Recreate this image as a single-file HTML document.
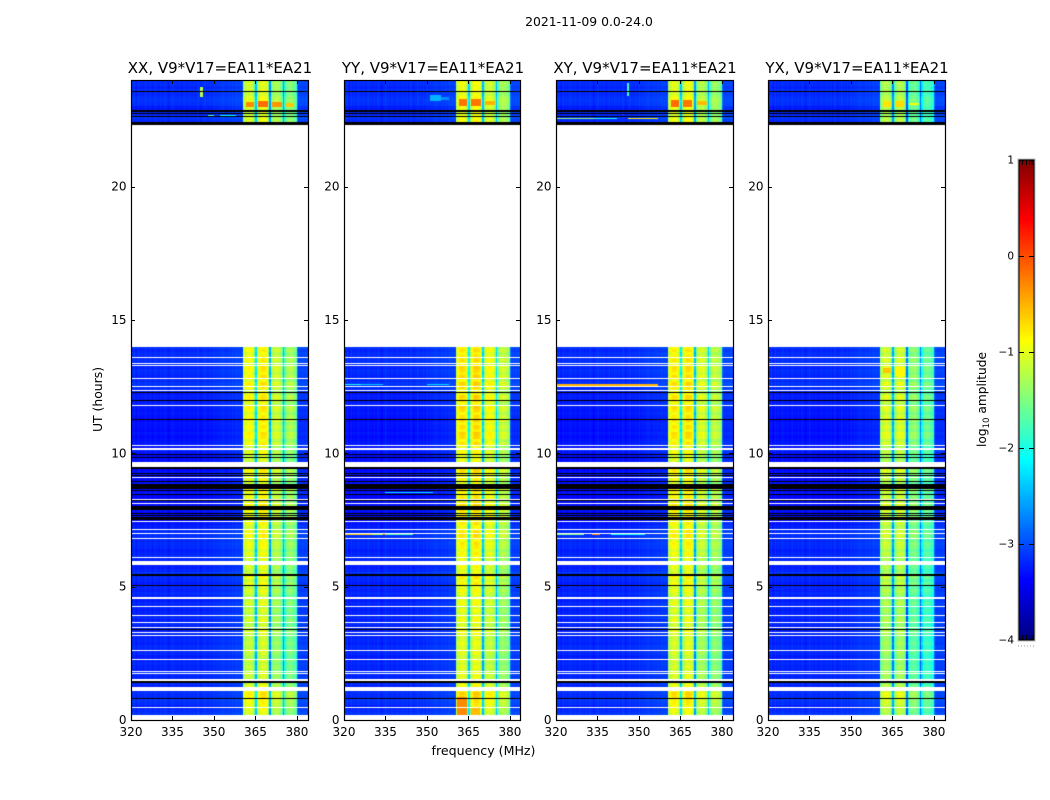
<!DOCTYPE html>
<html lang="en">
<head>
<meta charset="utf-8">
<title>2021-11-09 0.0-24.0</title>
<style>
html,body{margin:0;padding:0;background:#fff;}
#figure{position:relative;width:1050px;height:800px;overflow:hidden;background:#fff;font-family:"DejaVu Sans","Liberation Sans",sans-serif;}
canvas{position:absolute;display:block;}
svg{position:absolute;left:0;top:0;}
text{font-family:"DejaVu Sans","Liberation Sans",sans-serif;fill:#000;}
</style>
</head>
<body>
<div id="figure">
  <canvas id="heat0" width="177" height="640" style="left:131px;top:80px"></canvas>
  <canvas id="heat1" width="176" height="640" style="left:344px;top:80px"></canvas>
  <canvas id="heat2" width="177" height="640" style="left:556px;top:80px"></canvas>
  <canvas id="heat3" width="177" height="640" style="left:768px;top:80px"></canvas>
  <canvas id="cbar" width="15" height="480" style="left:1019px;top:160px"></canvas>
  <svg id="overlay" width="1050" height="800" viewBox="0 0 1050 800">
    <text x="589" y="26" font-size="12.4" text-anchor="middle">2021-11-09 0.0-24.0</text>
    <text x="220" y="73" font-size="15" text-anchor="middle">XX, V9*V17=EA11*EA21</text>
    <text x="433" y="73" font-size="15" text-anchor="middle">YY, V9*V17=EA11*EA21</text>
    <text x="645" y="73" font-size="15" text-anchor="middle">XY, V9*V17=EA11*EA21</text>
    <text x="857" y="73" font-size="15" text-anchor="middle">YX, V9*V17=EA11*EA21</text>
    <text x="483.5" y="755" font-size="12.6" text-anchor="middle">frequency (MHz)</text>
    <text transform="translate(102,399.5) rotate(-90)" font-size="12.4" text-anchor="middle">UT (hours)</text>
    <text transform="translate(986,399.5) rotate(-90)" font-size="12.2" text-anchor="middle">log<tspan font-size="8.6" dy="3">10</tspan><tspan dy="-3"> amplitude</tspan></text>
  </svg>
</div>
<script>
/* ---- chart data ---- */
var panelLefts = [131, 344, 556, 768];
var panelWidths = [177, 176, 177, 177];
var panelKeys = ['xx', 'yy', 'xy', 'yx'];
var xTicks = [320, 335, 350, 365, 380];
var yTicks = [0, 5, 10, 15, 20];
var colorTicks = [1, 0, -1, -2, -3, -4];

/* log10 amplitude per 0.5 MHz channel, starting at 320 MHz */
var channelLevels = [
 -3.15,-3.2,-3.15,-3.25,-3.2,-3.15,-3.22,-3.18,-3.25,-3.2,-3.15,-3.2,-3.24,-3.18,-3.2,-3.26,
 -3.2,-3.15,-3.22,-3.2,-3.25,-3.18,-3.2,-3.24,-3.16,-3.2,-3.22,-3.26,-3.18,-3.2,-3.15,-3.22,
 -3.2,-3.24,-3.18,-3.2,-3.25,-3.2,-3.16,-3.22,-3.2,-3.24,-3.16,-3.2,-3.22,-3.18,-3.24,-3.2,
 -3.15,-3.2,-3.24,-3.18,-3.2,-3.14,-3.22,-3.18,-3.2,-3.14,-3.2,-3.16,-3.12,-3.18,-3.14,-3.16,
 -3.12,-3.15,-3.1,-3.14,-3.12,-3.16,-3.1,-3.12,-3.14,-3.08,-3.12,-3.1,-3.06,-3.1,-3.08,-3.1,-3.06,
 -1.45,-1.27,-1.17,-1.12,-1.12,-1.12,-1.17,-1.32,-1.7,-2.5,-1.6,-1.27,-1.12,-1.07,-1.07,-1.07,-1.12,-1.22,-1.6,
 -2.6,-1.7,-1.37,-1.27,-1.22,-1.22,-1.22,-1.27,-1.42,-1.75,-2.5,-1.8,-1.47,-1.37,-1.32,-1.32,-1.37,-1.42,-1.52,-1.7,
 -2.8,-3.1,-3.05,-3.1,-3.06,-3.1,-3.05,-3.1
];

/* Band-level offsets per 1/8 hour, 0 to 14 h */
var bandGainLow = [
 0,.05,.1,.15,.2,.22,.3,.34,
 .2,.12,0,-.08,-.02,.05,-.08,-.02,
 -.1,.02,-.12,-.02,.06,-.08,.03,-.06,
 -.08,.04,.1,-.03,-.1,.08,0,-.08,
 .03,-.1,.1,0,-.1,.02,.1,-.03,
 .16,.02,.2,.05,-.05,.08,.16,.02,
 .05,.14,.02,.15,.2,.08,.22,.28,
 .18,.06,.2,.08,.26,.12,.26,.3,
 .25,.05,.2,.1,.28,.08,.02,.14,
 .12,.2,.28,.14,.08,.02,-.02,.14,
 .1,.02,.24,.1,.28,.32,.16,.26,
 .14,.3,.24,.12,.26,.32,.08,.24,
 .3,.15,.05,.26,.32,.12,.3,.18,
 .26,.3,.12,.26,.2,.12,.24,.16
];
/* Background offsets per 1/8 hour, 0 to 14 h */
var backgroundGainLow = [
 .04,.07,.03,-.01,.05,.08,.03,.06,
 .03,-.02,.04,-.03,0,.04,-.02,0,
 .03,-.01,-.04,.02,-.01,.04,-.02,.02,
 -.01,.02,-.03,-.01,.03,-.03,.02,-.01,
 -.03,0,.02,-.04,0,.03,-.02,.01,
 -.04,0,.03,.08,0,-.03,.02,-.01,
 .03,0,-.03,.02,.04,.01,.05,.03,
 .04,-.03,-.08,-.13,-.1,-.13,-.08,-.12,
 -.12,-.1,-.15,-.08,-.12,-.15,-.09,-.13,
 -.12,-.08,-.12,-.09,-.06,-.1,-.12,-.08,
 -.03,-.09,-.05,-.08,-.12,-.07,-.12,-.09,
 -.08,-.12,-.09,-.05,-.08,-.05,-.03,-.06,
 -.03,-.06,0,.04,.08,.03,0,.03,
 .05,0,.03,.06,.03,.05,0,.07
];
/* Offsets per 1/8 hour, 22.375 to 24 h */
var bandGainHigh = [.1,.05,0,.05,.05,.1,.15,.1,0,.05,0,.05,.05];
var backgroundGainHigh = [.02,.08,.02,-.03,-.05,.05,.08,.06,.02,.05,-.01,.04,.02];

/* Panel offset for each of the four sub-bands: XX, YY, XY, YX */
var panelBandOffsets = [
 [0, .05, -.1, -.15],
 [.15, .15, .1, 0],
 [.1, .1, -.05, -.05],
 [-.15, -.2, -.4, -.45]
];
var subbandEdges = [360.5, 365, 370, 375, 380];

/* Time spans holding data, hours */
var dataSpans = [[0.18, 13.98], [22.41, 24.0]];

/* Rows flagged white, hours */
var whiteRows = [[.45,.49],[1.08,1.23],[1.46,1.52],[1.74,1.78],[1.80,1.84],[2.25,2.29],[2.59,2.63],[3.16,3.20],[3.27,3.31],[3.44,3.48],[3.64,3.68],[3.90,3.94],[4.24,4.28],[4.53,4.61],[5.80,5.91],[5.92,5.96],[6.08,6.12],[6.79,6.83],[6.98,7.02],[7.13,7.17],[7.41,7.46],[8.11,8.15],[8.26,8.30],[9.06,9.10],[9.50,9.69],[10.14,10.21],[10.27,10.31],[11.79,11.83],[12.35,12.39],[12.49,12.53],[12.80,12.84],[13.27,13.31],[13.36,13.40],[13.59,13.63]];
/* Rows flagged black, hours */
var blackRows = [[.785,.82],[1.38,1.47],[3.38,3.42],[5.03,5.07],[5.40,5.47],[7.50,7.61],[7.66,7.70],[7.73,7.77],[7.87,8.02],[8.21,8.25],[8.42,8.46],[8.58,8.62],[8.66,8.85],[8.93,8.97],[9.14,9.17],[9.23,9.27],[9.40,9.49],[9.82,9.86],[9.92,9.98],[11.25,11.28],[11.97,12.01],[12.28,12.31],[22.33,22.41],[22.60,22.64],[22.71,22.76],[22.80,22.89],[23.54,23.58]];

/* Localised bright features: panel, MHz from, MHz to, hour from, hour to, log10 amplitude */
var brightFeatures = [
 [0,345,346,23.35,23.75,-1.2],[0,361.5,364.5,22.98,23.16,-.3],[0,366,369.5,22.98,23.22,-.15],[0,371,374.5,23.0,23.18,-.35],[0,376,379,23.0,23.12,-.6],
 [0,348,350,22.66,22.7,-1.7],[0,352,358,22.66,22.7,-2.1],
 [1,351,355,23.22,23.42,-2.5],[1,355,358,23.24,23.36,-2.7],[1,361.5,364.5,23.02,23.28,-.2],[1,366,369.5,23.02,23.28,-.2],[1,371,374.5,23.05,23.22,-.5],
 [1,320,326,12.55,12.6,-2.0],[1,326,334,12.55,12.6,-2.4],[1,350,358,12.55,12.6,-2.3],[1,361,364.5,.18,.85,-.3],[1,366,369,.18,.5,-.55],
 [1,320,330,6.92,6.96,-.6],[1,330,334,6.92,6.96,-1.3],[1,334,335,6.92,6.96,.1],[1,335,345,6.92,6.96,-1.7],[1,335,352,8.5,8.55,-2.3],
 [2,345.5,346.5,23.4,23.9,-1.8],[2,361.5,364.5,23.0,23.26,-.15],[2,366,369,23.0,23.26,-.2],[2,371,374.5,23.05,23.2,-.55],
 [2,320,357,12.54,12.6,-.5],[2,320,330,6.92,6.96,-1.5],[2,333,336,6.92,6.96,-.3],[2,340,352,6.92,6.96,-2.0],[2,320,334,22.54,22.58,-1.4],[2,334,342,22.54,22.58,-2],[2,346,357,22.54,22.58,-.8],
 [3,361.5,364.5,23.0,23.2,-.75],[3,366,369,23.0,23.2,-.7],[3,371,374.5,23.05,23.15,-.9],
 [3,361.5,364.5,13,13.2,-.6],[3,366,369.5,12.9,13.25,-.85],
 [3,340,358,8.2,8.25,-2.4]
];

/* ---- axis functions ---- */
var PANEL_W = 177, AX_TOP = 80, AX_BOTTOM = 720;
var F0 = 320, F1 = 384, H0 = 0, H1 = 24;
function xScale(f) { return (f - F0) * PANEL_W / (F1 - F0); }
function yScale(h) { return AX_BOTTOM - (h - H0) * (AX_BOTTOM - AX_TOP) / (H1 - H0); }
function clamp01(v) { return Math.max(0, Math.min(1, v)); }
function jet(t) {
  var r = clamp01(Math.min(4 * t - 1.5, -4 * t + 4.5));
  var g = clamp01(Math.min(4 * t - 0.5, -4 * t + 3.5));
  var b = clamp01(Math.min(4 * t + 0.5, -4 * t + 2.5));
  return 'rgb(' + Math.round(r * 255) + ',' + Math.round(g * 255) + ',' + Math.round(b * 255) + ')';
}
function colorScale(v) { return jet(clamp01((v + 4) / 5)); }

function gainAt(h, isBand) {
  var low = isBand ? bandGainLow : backgroundGainLow;
  var high = isBand ? bandGainHigh : backgroundGainHigh;
  if (h < 14) return low[Math.min(low.length - 1, Math.floor(h * 8))];
  return high[Math.max(0, Math.min(high.length - 1, Math.floor((h - 22.375) * 8)))];
}
function subbandIndex(f) {
  for (var i = 0; i < subbandEdges.length - 1; i++) {
    if (f >= subbandEdges[i] && f < subbandEdges[i + 1]) return i;
  }
  return -1;
}

/* ---- heatmaps ---- */
function drawPanel(p) {
  var ctx = document.getElementById('heat' + p).getContext('2d');
  var rowStep = 0.0625, chanStep = 0.5;
  dataSpans.forEach(function (span) {
    for (var h = span[0]; h < span[1]; h += rowStep) {
      var yTop = Math.round(yScale(Math.min(span[1], h + rowStep))) - AX_TOP;
      var yBot = Math.round(yScale(h)) - AX_TOP;
      for (var c = 0; c < channelLevels.length; c++) {
        var f = F0 + c * chanStep;
        var sb = subbandIndex(f);
        var level = channelLevels[c];
        var v = sb >= 0 ? level + gainAt(h, true) + panelBandOffsets[p][sb] : level + gainAt(h, false);
        var x0 = Math.round(xScale(f));
        var x1 = Math.round(xScale(f + chanStep));
        ctx.fillStyle = colorScale(v);
        ctx.fillRect(x0, yTop, x1 - x0, yBot - yTop);
      }
    }
  });
  brightFeatures.forEach(function (e) {
    if (e[0] !== p) return;
    ctx.fillStyle = colorScale(e[5]);
    var x0 = Math.round(xScale(e[1]));
    var yTop = Math.round(yScale(e[4])) - AX_TOP;
    ctx.fillRect(x0, yTop, Math.round(xScale(e[2])) - x0, Math.max(1, Math.round(yScale(e[3])) - AX_TOP - yTop));
  });
  ctx.fillStyle = '#fff';
  whiteRows.forEach(function (r) {
    var yTop = Math.round(yScale(r[1])) - AX_TOP;
    ctx.fillRect(0, yTop, PANEL_W, Math.max(1, Math.round(yScale(r[0])) - AX_TOP - yTop));
  });
  ctx.fillStyle = '#000';
  blackRows.forEach(function (r) {
    var yTop = Math.round(yScale(r[1])) - AX_TOP;
    ctx.fillRect(0, yTop, PANEL_W, Math.max(1, Math.round(yScale(r[0])) - AX_TOP - yTop));
  });
}
[0, 1, 2, 3].forEach(drawPanel);

/* ---- colorbar ---- */
(function () {
  var ctx = document.getElementById('cbar').getContext('2d');
  for (var y = 0; y < 480; y++) {
    ctx.fillStyle = jet(1 - (y + 0.5) / 480);
    ctx.fillRect(0, y, 15, 1);
  }
})();

/* ---- axes ---- */
var svg = document.getElementById('overlay');
var NS = 'http://www.w3.org/2000/svg';
function addLine(x1, y1, x2, y2, color, width) {
  var l = document.createElementNS(NS, 'line');
  l.setAttribute('x1', x1);
  l.setAttribute('y1', y1);
  l.setAttribute('x2', x2);
  l.setAttribute('y2', y2);
  l.setAttribute('stroke', color);
  l.setAttribute('stroke-width', width);
  svg.appendChild(l);
  return l;
}
function addText(x, y, str, anchor, size) {
  var t = document.createElementNS(NS, 'text');
  t.setAttribute('x', x);
  t.setAttribute('y', y);
  t.setAttribute('text-anchor', anchor);
  t.setAttribute('font-size', size);
  t.textContent = str;
  svg.appendChild(t);
  return t;
}
panelLefts.forEach(function (left, p) {
  var key = panelKeys[p];
  var w = panelWidths[p];
  var frame = document.createElementNS(NS, 'rect');
  frame.setAttribute('x', left + 0.5);
  frame.setAttribute('y', AX_TOP + 0.5);
  frame.setAttribute('width', w);
  frame.setAttribute('height', AX_BOTTOM - AX_TOP);
  frame.setAttribute('fill', 'none');
  frame.setAttribute('stroke', '#000');
  frame.setAttribute('stroke-width', 1.2);
  
  
  svg.appendChild(frame);

  xTicks.forEach(function (f) {
    var x = Math.round(left + xScale(f)) + 0.5;
    var bottomTick = addLine(x, AX_BOTTOM, x, AX_BOTTOM - 4, '#000', 1);
    
    
    var topTick = addLine(x, AX_TOP, x, AX_TOP + 4, '#000', 1);
    
    
    var xLabel = addText(left + xScale(f), 736, String(f), 'middle', 12);
    
    
  });
  yTicks.forEach(function (h) {
    var y = Math.round(yScale(h)) + 0.5;
    var leftTick = addLine(left, y, left + 4, y, '#000', 1);
    
    
    var rightTick = addLine(left + w, y, left + w - 4, y, '#000', 1);
    
    
    var yLabel = addText(left - 4.5, yScale(h) + 4, String(h), 'end', 12);
    
    
  });
});

/* ---- colorbar furniture ---- */
var CB_L = 1019, CB_R = 1034, CB_T = 160, CB_B = 640;
function cbY(v) { return CB_T + (1 - v) * (CB_B - CB_T) / 5; }
var cbOuter = document.createElementNS(NS, 'rect');
cbOuter.setAttribute('x', CB_L - 1);
cbOuter.setAttribute('y', CB_T - 1);
cbOuter.setAttribute('width', CB_R - CB_L + 2);
cbOuter.setAttribute('height', CB_B - CB_T + 2);
cbOuter.setAttribute('fill', 'none');
cbOuter.setAttribute('stroke', '#bbb');
cbOuter.setAttribute('stroke-width', 1);


svg.appendChild(cbOuter);
var cbFrame = document.createElementNS(NS, 'rect');
cbFrame.setAttribute('x', CB_L);
cbFrame.setAttribute('y', CB_T);
cbFrame.setAttribute('width', CB_R - CB_L);
cbFrame.setAttribute('height', CB_B - CB_T);
cbFrame.setAttribute('fill', 'none');
cbFrame.setAttribute('stroke', '#000');
cbFrame.setAttribute('stroke-width', 1);


svg.appendChild(cbFrame);
colorTicks.forEach(function (v) {
  var y = Math.round(cbY(v)) + (v === -4 ? -0.5 : 0.5);
  var tickL = addLine(CB_L, y, CB_L + 5, y, '#000', 1);
  
  
  var tickR = addLine(CB_R, y, CB_R - 5, y, '#000', 1);
  
  
  var label = addText(1014, cbY(v) + 3.5, (v < 0 ? '\u2212' + (-v) : String(v)), 'end', 10.5);
  
  
});
[3.5, 7.5, 10.5, 13].forEach(function (dx) {
  var minorTop = addLine(CB_L + dx, CB_T, CB_L + dx, CB_T + 5, '#000', 1);
  
  
  var minorBottom = addLine(CB_L + dx, CB_B, CB_L + dx, CB_B - 5, '#000', 1);
  
  
});
[1018, 1021, 1024, 1027, 1030, 1033].forEach(function (x) {
  var dot = addLine(x, 646, x + 1, 646, '#999', 1);
  
  
});
</script>
</body>
</html>
